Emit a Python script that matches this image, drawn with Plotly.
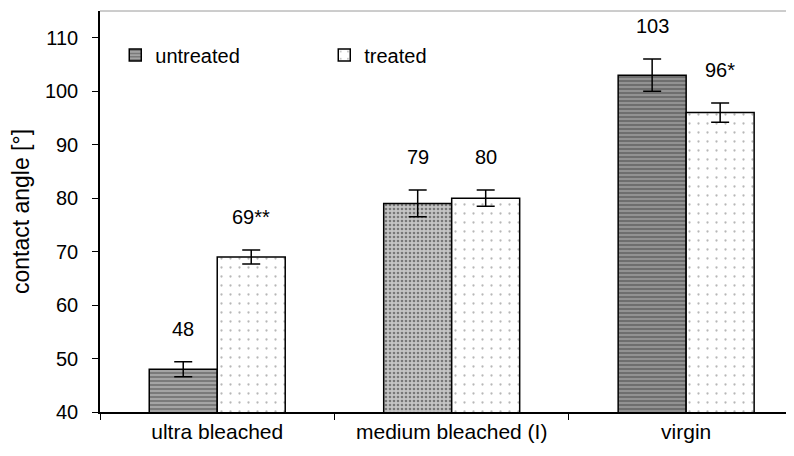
import plotly.graph_objects as go

categories = ["ultra bleached", "medium bleached (I)", "virgin"]
untreated = [48, 79, 103]
treated = [69, 80, 96]
untreated_err = [1.4, 2.5, 3.0]
treated_err = [1.3, 1.5, 1.8]
untreated_labels = ["48", "79", "103"]
treated_labels = ["69**", "80", "96*"]
y_ticks = [40, 50, 60, 70, 80, 90, 100, 110]

FONT = "Liberation Sans, Arial, sans-serif"

fig = go.Figure()
fig.add_trace(go.Bar(
    x=categories,
    y=untreated,
    name="untreated",
    marker=dict(
        color="#9a9a9a",
        line=dict(color="black", width=1.5),
        pattern=dict(shape=["-", ".", "-"], fgcolor="#2a2a2a",
                     bgcolor=["#a4a4a4", "#c4c4c4", "#929292"],
                     size=4, solidity=0.35),
    ),
    error_y=dict(type="data", array=untreated_err, color="black",
                 thickness=1.5, width=9),
))
fig.add_trace(go.Bar(
    x=categories,
    y=treated,
    name="treated",
    marker=dict(
        color="white",
        line=dict(color="black", width=1.5),
        pattern=dict(shape=".", fgcolor="#707070", bgcolor="white",
                     size=9, solidity=0.05),
    ),
    error_y=dict(type="data", array=treated_err, color="black",
                 thickness=1.5, width=9),
))

# value labels above the error bars
offset = 0.29 / 2
for i, cat in enumerate(categories):
    for val, err, lab, dx in (
        (untreated[i], untreated_err[i], untreated_labels[i], -offset),
        (treated[i], treated_err[i], treated_labels[i], offset),
    ):
        fig.add_annotation(
            x=i + dx, y=val + err, text=lab, showarrow=False,
            yanchor="bottom", yshift=20,
            font=dict(family=FONT, size=20, color="black"),
        )

# thin grey frame line across the top
fig.add_shape(type="line", xref="paper", yref="paper", x0=0, x1=1, y0=1, y1=1,
              line=dict(color="#9a9a9a", width=1))

fig.update_layout(
    width=794,
    height=456,
    plot_bgcolor="white",
    paper_bgcolor="white",
    barmode="group",
    bargap=0.42,
    bargroupgap=0,
    margin=dict(l=92, r=8, t=3, b=52),
    font=dict(family=FONT, size=20, color="black"),
    showlegend=True,
    legend=dict(
        orientation="h", x=0.022, y=0.89, xanchor="left", yanchor="middle",
        entrywidth=164, entrywidthmode="pixels",
        font=dict(family=FONT, size=20), itemwidth=30,
        bgcolor="rgba(0,0,0,0)",
    ),
    xaxis=dict(
        type="category",
        range=[-0.5, 2.46],
        showline=True, linecolor="black", linewidth=1.5,
        ticks="outside", tickson="boundaries", ticklen=6, tickcolor="black",
        tickfont=dict(family=FONT, size=21),
        showgrid=False,
    ),
    yaxis=dict(
        title=dict(text="contact angle [°]", font=dict(family=FONT, size=23),
                   standoff=12),
        range=[40, 115],
        tickvals=y_ticks,
        showline=True, linecolor="black", linewidth=1.5,
        ticks="outside", ticklen=6, tickcolor="black",
        ticklabelstandoff=10,
        tickfont=dict(family=FONT, size=20),
        showgrid=False, zeroline=False,
    ),
)

fig.write_html("out.html")
